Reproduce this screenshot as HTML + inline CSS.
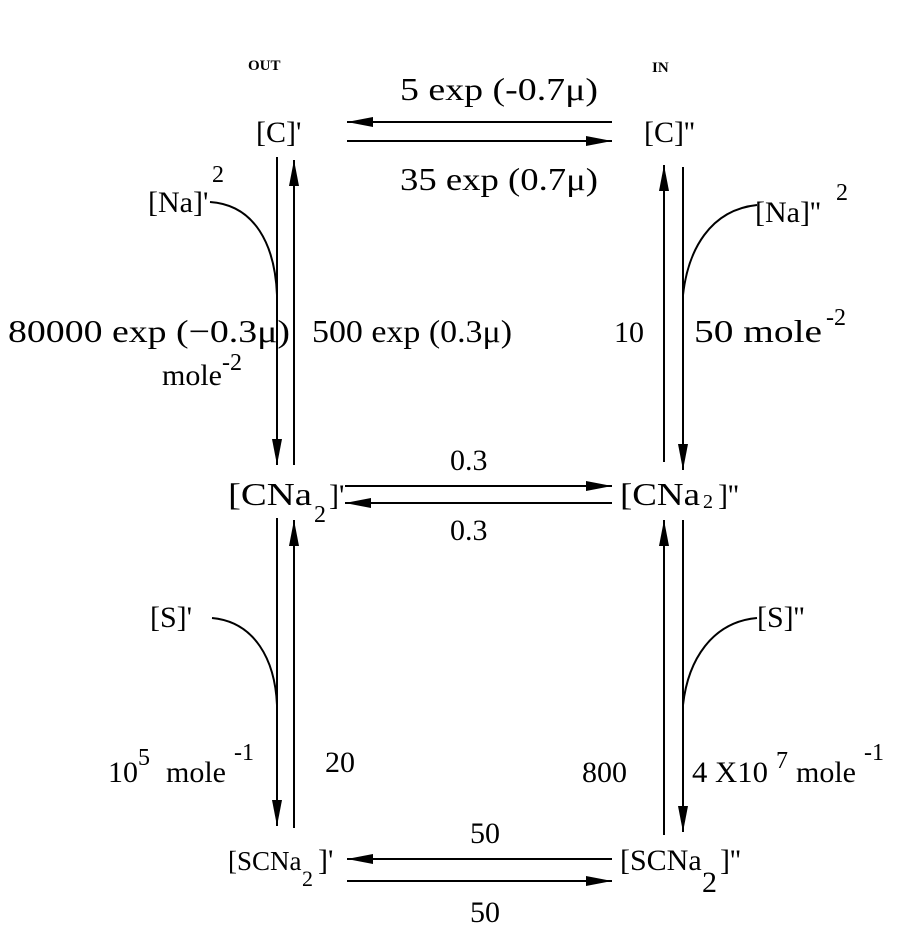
<!DOCTYPE html>
<html><head><style>
body{margin:0;background:#fff}
text{font-family:"Liberation Serif",serif;font-size:30px;fill:#000}
.p{font-size:24px}
.b{font-size:32px}
</style></head><body>
<svg width="917" height="935" viewBox="0 0 917 935" xmlns="http://www.w3.org/2000/svg">
<defs>
<marker id="a" markerWidth="26" markerHeight="10" refX="26" refY="5" orient="auto" markerUnits="userSpaceOnUse">
<path d="M0,0 L26,5 L0,10 Z" fill="#000"/></marker>
</defs>
<g stroke="#000" stroke-width="2" fill="none">
<line x1="612" y1="122" x2="347" y2="122" marker-end="url(#a)"/>
<line x1="347" y1="141" x2="612" y2="141" marker-end="url(#a)"/>
<line x1="345" y1="486" x2="612" y2="486" marker-end="url(#a)"/>
<line x1="612" y1="503" x2="345" y2="503" marker-end="url(#a)"/>
<line x1="612" y1="859" x2="347" y2="859" marker-end="url(#a)"/>
<line x1="347" y1="881" x2="612" y2="881" marker-end="url(#a)"/>
<line x1="277" y1="157" x2="277" y2="465" marker-end="url(#a)"/>
<line x1="294" y1="465" x2="294" y2="160" marker-end="url(#a)"/>
<line x1="664" y1="462" x2="664" y2="165" marker-end="url(#a)"/>
<line x1="683" y1="167" x2="683" y2="470" marker-end="url(#a)"/>
<line x1="277" y1="518" x2="277" y2="826" marker-end="url(#a)"/>
<line x1="294" y1="828" x2="294" y2="520" marker-end="url(#a)"/>
<line x1="664" y1="835" x2="664" y2="520" marker-end="url(#a)"/>
<line x1="683" y1="520" x2="683" y2="832" marker-end="url(#a)"/>
<path d="M210,202 C255,205 275,245 277,295"/>
<path d="M757,205 C710,210 688,250 683,295"/>
<path d="M212,618 C255,622 275,660 277,705"/>
<path d="M757,618 C712,622 688,660 683,705"/>
</g>
<text x="248" y="70" style="font-weight:bold;font-size:15px">OUT</text>
<text x="652" y="72" style="font-weight:bold;font-size:15px">IN</text>
<text x="400" y="100" class="b" textLength="198" lengthAdjust="spacingAndGlyphs">5  exp (-0.7μ)</text>
<text x="400" y="190" class="b" textLength="198" lengthAdjust="spacingAndGlyphs">35 exp (0.7μ)</text>
<text x="256" y="142">[C]'</text>
<text x="644" y="142">[C]''</text>
<text x="148" y="212">[Na]'</text>
<text x="212" y="182" class="p">2</text>
<text x="755" y="222">[Na]''</text>
<text x="836" y="200" class="p">2</text>
<text x="8" y="342" class="b" textLength="282" lengthAdjust="spacingAndGlyphs">80000 exp (−0.3μ)</text>
<text x="162" y="385">mole</text>
<text x="222" y="370" class="p">-2</text>
<text x="312" y="342" class="b" textLength="200" lengthAdjust="spacingAndGlyphs">500 exp (0.3μ)</text>
<text x="614" y="342">10</text>
<text x="694" y="342" class="b" textLength="128" lengthAdjust="spacingAndGlyphs">50  mole</text>
<text x="826" y="325" class="p">-2</text>
<text x="450" y="470">0.3</text>
<text x="450" y="540">0.3</text>
<text x="228" y="505" class="b" textLength="84" lengthAdjust="spacingAndGlyphs">[CNa</text>
<text x="314" y="522" class="p">2</text><text x="329" y="505">]'</text>
<text x="620" y="505" class="b" textLength="80" lengthAdjust="spacingAndGlyphs">[CNa</text>
<text x="703" y="508" style="font-size:20px">2</text><text x="718" y="505">]''</text>
<text x="150" y="627">[S]'</text>
<text x="757" y="627">[S]''</text>
<text x="108" y="782">10</text>
<text x="138" y="765" class="p">5</text>
<text x="166" y="782">mole</text>
<text x="234" y="760" class="p">-1</text>
<text x="325" y="772">20</text>
<text x="582" y="782">800</text>
<text x="692" y="782" textLength="76" lengthAdjust="spacingAndGlyphs">4 X10</text>
<text x="776" y="768" class="p">7</text>
<text x="796" y="782">mole</text>
<text x="864" y="760" class="p">-1</text>
<text x="470" y="843">50</text>
<text x="470" y="922">50</text>
<text x="228" y="870" style="font-size:27px">[SCNa</text>
<text x="302" y="886" style="font-size:22px">2</text><text x="318" y="870">]'</text>
<text x="620" y="870">[SCNa</text>
<text x="702" y="892">2</text><text x="720" y="870">]''</text>
</svg>
</body></html>
